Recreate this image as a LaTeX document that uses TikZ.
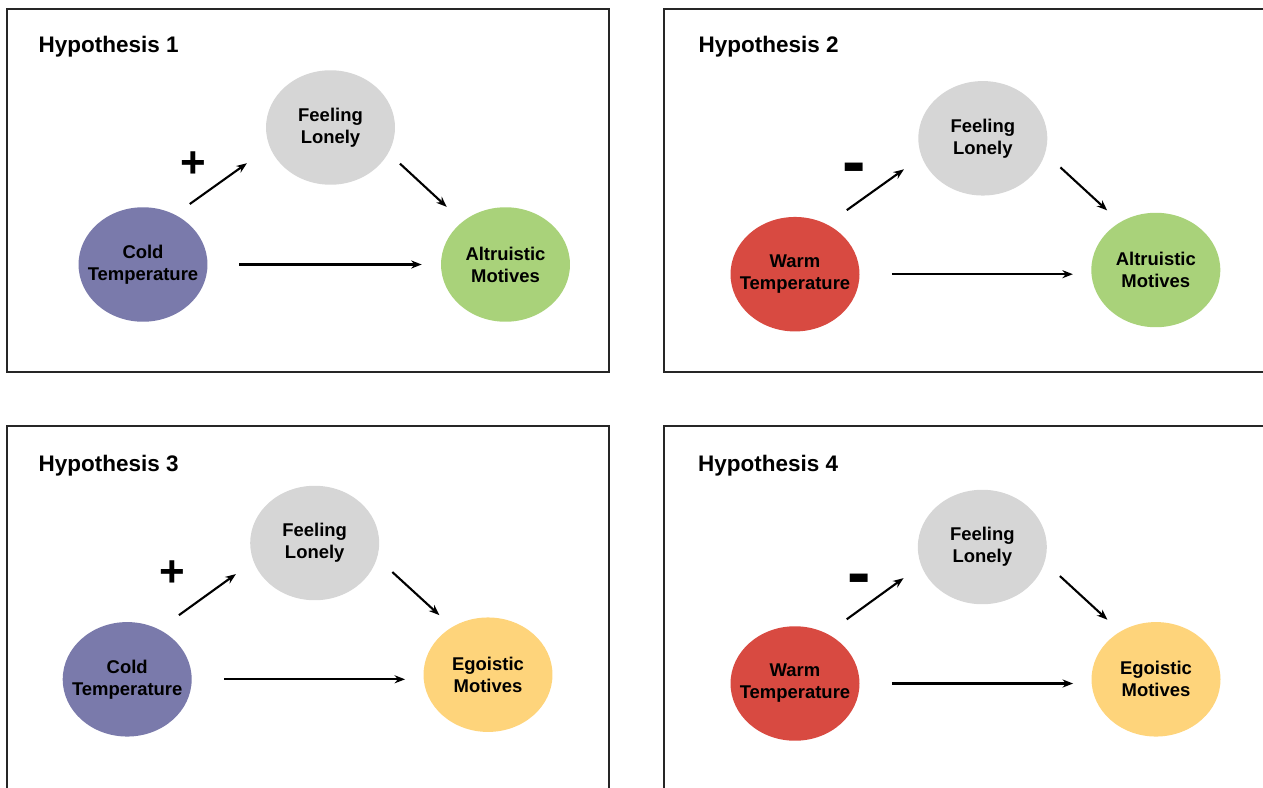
\documentclass[tikz,border=0pt]{standalone}
\usepackage{fontspec}
\setmainfont{Liberation Sans}
\usetikzlibrary{arrows.meta,positioning,shapes.geometric}

\definecolor{coldblue}{HTML}{7A7AAB}
\definecolor{warmred}{HTML}{D84A41}
\definecolor{altgreen}{HTML}{A9D27A}
\definecolor{egoyellow}{HTML}{FED47B}
\definecolor{lonelygray}{HTML}{D6D6D6}

\begin{document}
\begin{tikzpicture} [> = {Stealth[length=6pt, width=4.6pt]}, x = 0.02cm, y = -0.02cm, line width = 1.2pt]
            % Estilos
            \tikzstyle{vertex}=[ellipse, inner xsep=-12pt, inner ysep=0pt, minimum width=2.58cm, minimum height=2.29cm, align=center, font=\fontsize{10.5}{12.5}\selectfont\bfseries]
            \tikzstyle{title}=[anchor=base west, inner sep=0pt, font=\fontsize{12.8}{15}\selectfont\bfseries]
            \tikzstyle{sign}=[inner sep=0pt, font=\fontsize{25}{25}\selectfont\bfseries]
            \tikzstyle{panel}=[line width=1.3pt, draw=black!85]

            \clip (0,0) rectangle (1263,787);

            % Quadros
            \draw[panel] (7,9) rectangle (609,372);
            \draw[panel] (664,9) rectangle (1275,372);
            \draw[panel] (7,426) rectangle (609,800);
            \draw[panel] (664,426) rectangle (1275,800);

            % Hypothesis 1
            \node[title] (t1) at (37.5,52.7) {Hypothesis 1};
            \node[vertex, fill=coldblue] (cold1) at (143,264.5) {Cold\\Temperature};
            \node[vertex, fill=lonelygray] (feel1) at (330.5,127.5) {Feeling\\Lonely};
            \node[vertex, fill=altgreen] (alt1) at (505.5,264.5) {Altruistic\\Motives};
            \node[sign] (s1) at (193.3,165) {+};
            \draw[->, shorten <=9.8pt, shorten >=15.4pt] (cold1.57) -- (feel1.198);
            \draw[->, shorten <=8.4pt, shorten >=11.8pt] (feel1.336) -- (alt1.135);
            \draw[->, shorten <=17.5pt, shorten >=10.4pt] (cold1.east) -- (alt1.west);

            % Hypothesis 2
            \node[title] (t2) at (697.5,52.7) {Hypothesis 2};
            \node[vertex, fill=warmred] (warm2) at (795,274.2) {Warm\\Temperature};
            \node[vertex, fill=lonelygray] (feel2) at (982.8,138.3) {Feeling\\Lonely};
            \node[vertex, fill=altgreen] (alt2) at (1155.8,270) {Altruistic\\Motives};
            \node[sign, font=\fontsize{40}{40}\selectfont\bfseries] (s2) at (854,174.5) {-};
            \draw[->, shorten <=13.3pt, shorten >=11.8pt] (warm2.57) -- (feel2.197);
            \draw[->, shorten <=11.2pt, shorten >=9.4pt] (feel2.346) -- (alt2.127);
            \draw[->, shorten <=17.8pt, shorten >=9.9pt] (warm2.east) -- (warm2.east -| alt2.west);

            % Hypothesis 3
            \node[title] (t3) at (37.5,471.7) {Hypothesis 3};
            \node[vertex, fill=coldblue] (cold3) at (127.2,679.3) {Cold\\Temperature};
            \node[vertex, fill=lonelygray] (feel3) at (314.7,543) {Feeling\\Lonely};
            \node[vertex, fill=egoyellow] (ego3) at (488,674.7) {Egoistic\\Motives};
            \node[sign] (s3) at (172.3,573.7) {+};
            \draw[->, shorten <=13.3pt, shorten >=11.8pt] (cold3.57) -- (feel3.197);
            \draw[->, shorten <=11.2pt, shorten >=9.4pt] (feel3.346) -- (ego3.127);
            \draw[->, shorten <=17.8pt, shorten >=9.9pt] (cold3.east) -- (cold3.east -| ego3.west);

            % Hypothesis 4
            \node[title] (t4) at (697,471.7) {Hypothesis 4};
            \node[vertex, fill=warmred] (warm4) at (795,683.5) {Warm\\Temperature};
            \node[vertex, fill=lonelygray] (feel4) at (982.3,547) {Feeling\\Lonely};
            \node[vertex, fill=egoyellow] (ego4) at (1156,679.3) {Egoistic\\Motives};
            \node[sign, font=\fontsize{40}{40}\selectfont\bfseries] (s4) at (859,585.5) {-};
            \draw[->, shorten <=13.3pt, shorten >=11.8pt] (warm4.57) -- (feel4.197);
            \draw[->, shorten <=11.2pt, shorten >=9.4pt] (feel4.346) -- (ego4.127);
            \draw[->, shorten <=17.8pt, shorten >=9.9pt] (warm4.east) -- (warm4.east -| ego4.west);
        \end{tikzpicture}
\end{document}
